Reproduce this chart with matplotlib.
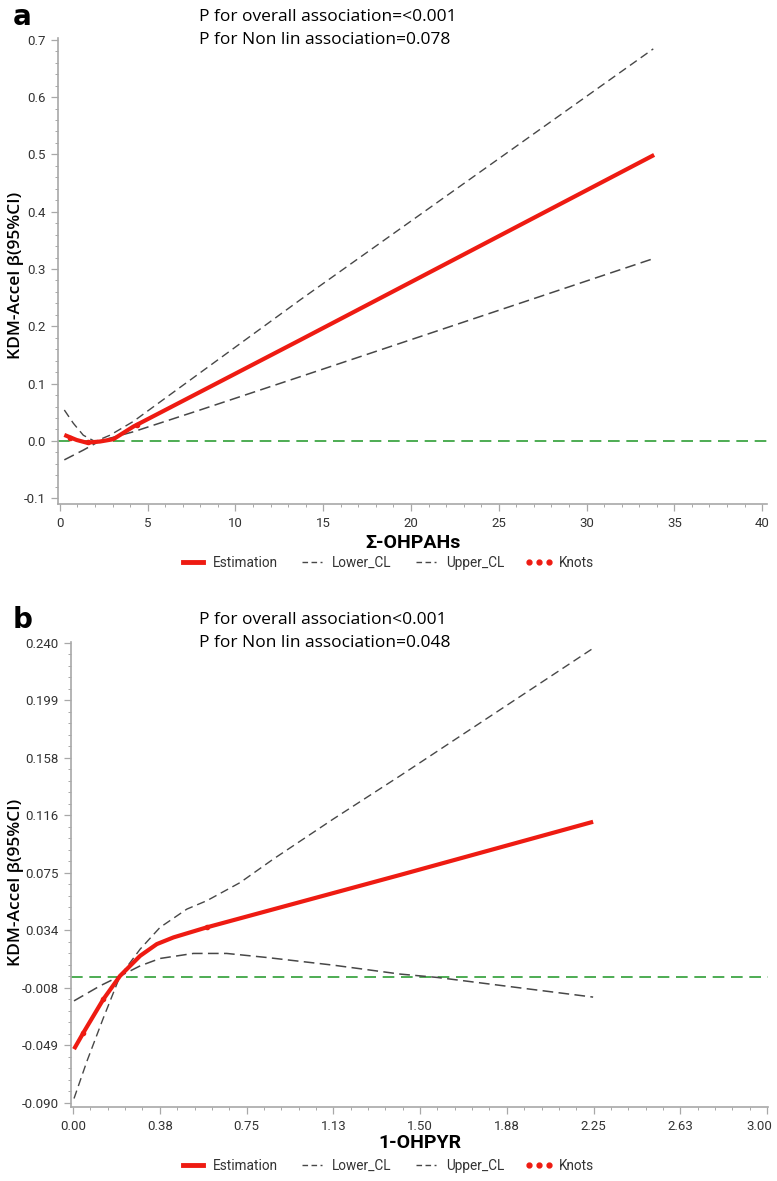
#!/usr/bin/env python3


# +
# import(s)
# -
from matplotlib import font_manager
from matplotlib.lines import Line2D
from matplotlib.ticker import AutoMinorLocator, FixedLocator
from matplotlib.transforms import ScaledTranslation

import matplotlib
matplotlib.use('Agg')
import matplotlib.pyplot as plt


# +
# data: panel a (sum of OH-PAHs)
# -
A_EST_X = [0.25, 0.95, 1.52, 2.28, 3.04, 4.18, 13.68, 33.85]
A_EST_Y = [0.0105, 0.0017, -0.003, -0.001, 0.003, 0.025, 0.176, 0.499]
A_UPP_X = [0.25, 0.76, 1.33, 2.0, 2.85, 4.18, 13.68, 33.8]
A_UPP_Y = [0.054, 0.031, 0.010, -0.001, 0.010, 0.034, 0.246, 0.684]
A_LOW_X = [0.25, 1.33, 2.28, 4.18, 7.98, 13.68, 33.8]
A_LOW_Y = [-0.033, -0.016, 0.0, 0.016, 0.054, 0.112, 0.318]
A_KNOTS_X = [0.6, 1.6, 4.4]
A_KNOTS_Y = [0.006, -0.002, 0.028]
A_YTICKS = [-0.1, 0.0, 0.1, 0.2, 0.3, 0.4, 0.5, 0.6, 0.7]
A_XTICKS = [0, 5, 10, 15, 20, 25, 30, 35, 40]
A_TEXT = ['P for overall association=<0.001', 'P for Non lin association=0.078']

# +
# data: panel b (1-OHPYR)
# -
B_EST_X = [0.004, 0.045, 0.131, 0.203, 0.290, 0.362, 0.434, 0.578, 1.414, 2.248]
B_EST_Y = [-0.0514, -0.0395, -0.0156, 0.0011, 0.0155, 0.0239, 0.0287, 0.0359, 0.0735, 0.1116]
B_UPP_X = [0.004, 0.06, 0.131, 0.203, 0.290, 0.376, 0.492, 0.578, 0.722, 0.866, 1.125, 1.414, 2.248]
B_UPP_Y = [-0.0868, -0.060, -0.029, 0.001, 0.0203, 0.0359, 0.049, 0.055, 0.068, 0.0849, 0.1136, 0.1446, 0.236]
B_LOW_X = [0.004, 0.117, 0.203, 0.290, 0.376, 0.52, 0.664, 0.837, 1.125, 1.414, 1.574, 2.248]
B_LOW_Y = [-0.0168, -0.006, 0.001, 0.0083, 0.0136, 0.0172, 0.0172, 0.0143, 0.0088, 0.0024, 0.0, -0.0141]
B_KNOTS_X = [0.045, 0.131, 0.578]
B_KNOTS_Y = [-0.0395, -0.0156, 0.0359]
B_YTICKS = [-0.09, -0.04875, -0.0075, 0.03375, 0.075, 0.11625, 0.1575, 0.19875, 0.24]
B_YLABELS = ['-0.090', '-0.049', '-0.008', '0.034', '0.075', '0.116', '0.158', '0.199', '0.240']
B_XTICKS = [0.0, 0.375, 0.75, 1.125, 1.5, 1.875, 2.25, 2.625, 3.0]
B_XLABELS = ['0.00', '0.38', '0.75', '1.13', '1.50', '1.88', '2.25', '2.63', '3.00']
B_TEXT = ['P for overall association<0.001', 'P for Non lin association=0.048']

LEGEND_NAMES = ['Estimation', 'Lower_CL', 'Upper_CL', 'Knots']


# +
# constant(s)
# -
W, H = 777, 1181
RED = '#ee1b12'
GREY = '#474747'
GREEN = '#2f9e36'
AXIS = '#a8a8a8'
TICK_TXT = '#333333'


def pick_font(_names=None):
    _have = {_f.name for _f in font_manager.fontManager.ttflist}
    for _n in _names:
        if _n in _have:
            return _n
    return 'DejaVu Sans'


MAIN_FONT = pick_font(['Open Sans', 'Noto Sans', 'DejaVu Sans'])
NARROW_FONT = pick_font(['Liberation Sans Narrow', 'Roboto', 'DejaVu Sans'])
plt.rcParams['font.family'] = [MAIN_FONT, 'DejaVu Sans']


def px_box(_l, _t, _r, _b):
    return [_l/W, 1-_b/H, (_r-_l)/W, (_b-_t)/H]


# +
# function: draw one panel
# -
def panel(_ax, _est, _upp, _low, _knots, _xlim, _ylim):
    _ax.axhline(0.0, color=GREEN, lw=1.2, ls=(0, (7, 4)), zorder=1)
    _ax.plot(_upp[0], _upp[1], color=GREY, lw=1.0, ls=(0, (6, 3.5)), zorder=2)
    _ax.plot(_low[0], _low[1], color=GREY, lw=1.1, ls=(0, (7, 3.5)), zorder=2)
    _ax.plot(_est[0], _est[1], color=RED, lw=3.0, solid_capstyle='butt', zorder=3)
    _ax.plot(_knots[0], _knots[1], ls='none', marker='o', ms=3, color=RED, zorder=4)
    _ax.set_xlim(*_xlim)
    _ax.set_ylim(*_ylim)
    for _s in ['top', 'right']:
        _ax.spines[_s].set_visible(False)
    for _s in ['left', 'bottom']:
        _ax.spines[_s].set_color(AXIS)
        _ax.spines[_s].set_linewidth(1.2)
    _ax.xaxis.set_minor_locator(AutoMinorLocator(5))
    _ax.yaxis.set_minor_locator(AutoMinorLocator(5))
    _ax.tick_params(which='major', length=5, width=0.9, color=AXIS, labelsize=9.5, labelcolor=TICK_TXT, pad=4)
    _ax.tick_params(which='minor', length=2.5, width=0.7, color=AXIS)


def legend(_fig, _y):
    _h = [Line2D([], [], color=RED, lw=3.5),
          Line2D([], [], color=GREY, lw=1.0, ls=(0, (4, 2.5))),
          Line2D([], [], color=GREY, lw=1.0, ls=(0, (4, 2.5))),
          Line2D([], [], color=RED, ls='none', marker='o', ms=3.5)]
    _leg = _fig.legend(_h, LEGEND_NAMES, loc='center', bbox_to_anchor=(0.497, _y), ncol=4, frameon=False,
                       numpoints=3, handlelength=2.1, handletextpad=0.4, columnspacing=1.5,
                       prop={'family': [NARROW_FONT, 'DejaVu Sans'], 'size': 9.8})
    for _t in _leg.get_texts():
        _t.set_color(TICK_TXT)


# +
# main()
# -
fig = plt.figure(figsize=(W/100, H/100), dpi=100)

# panel a
ax_a = fig.add_axes(px_box(58, 38, 767, 504))
panel(ax_a, (A_EST_X, A_EST_Y), (A_UPP_X, A_UPP_Y), (A_LOW_X, A_LOW_Y), (A_KNOTS_X, A_KNOTS_Y),
      (-0.11, 40.28), (-0.11, 0.703))
ax_a.xaxis.set_major_locator(FixedLocator(A_XTICKS))
ax_a.yaxis.set_major_locator(FixedLocator(A_YTICKS))
ax_a.set_yticklabels([f'{_v:.1f}' for _v in A_YTICKS])
ax_a.set_xticklabels([f'{_v}' for _v in A_XTICKS])

# panel b
ax_b = fig.add_axes(px_box(71, 642, 768, 1107))
panel(ax_b, (B_EST_X, B_EST_Y), (B_UPP_X, B_UPP_Y), (B_LOW_X, B_LOW_Y), (B_KNOTS_X, B_KNOTS_Y),
      (-0.009, 3.004), (-0.0929, 0.2405))
ax_b.xaxis.set_major_locator(FixedLocator(B_XTICKS))
ax_b.yaxis.set_major_locator(FixedLocator(B_YTICKS))
ax_b.set_xticklabels(B_XLABELS)
ax_b.set_yticklabels(B_YLABELS)

for _lab in ax_a.get_xticklabels() + ax_a.get_yticklabels() + ax_b.get_xticklabels() + ax_b.get_yticklabels():
    _lab.set_fontfamily([NARROW_FONT, 'DejaVu Sans'])

# last x label of panel b sits pulled in from the edge, as in the original
_last = ax_b.get_xticklabels()[-1]
_last.set_transform(_last.get_transform() + ScaledTranslation(-8/100, 0, fig.dpi_scale_trans))

# texts
for _ytop, _letter, _lines, _ylab_y in [(17, 'a', A_TEXT, 275), (620, 'b', B_TEXT, 882)]:
    fig.text(13/W, 1-_ytop/H, _letter, fontsize=20, fontweight='heavy', ha='left', va='center',
             family=['DejaVu Sans'])
    fig.text(199/W, 1-_ytop/H, _lines[0], fontsize=12.5, ha='left', va='center')
    fig.text(199/W, 1-(_ytop+23)/H, _lines[1], fontsize=12.5, ha='left', va='center')
    fig.text(16/W, 1-_ylab_y/H, 'KDM-Accel β(95%CI)', rotation=90, fontsize=12.5, fontweight='semibold',
             ha='center', va='center')

fig.text(413/W, 1-543/H, 'Σ-OHPAHs', fontsize=14, fontweight='semibold', ha='center', va='center',
         family=[NARROW_FONT, 'DejaVu Sans'])
fig.text(420/W, 1-1143/H, '1-OHPYR', fontsize=14, fontweight='semibold', ha='center', va='center',
         family=[NARROW_FONT, 'DejaVu Sans'])

legend(fig, 1-563/H)
legend(fig, 1-1166/H)

fig.savefig('out.png', dpi=100)
